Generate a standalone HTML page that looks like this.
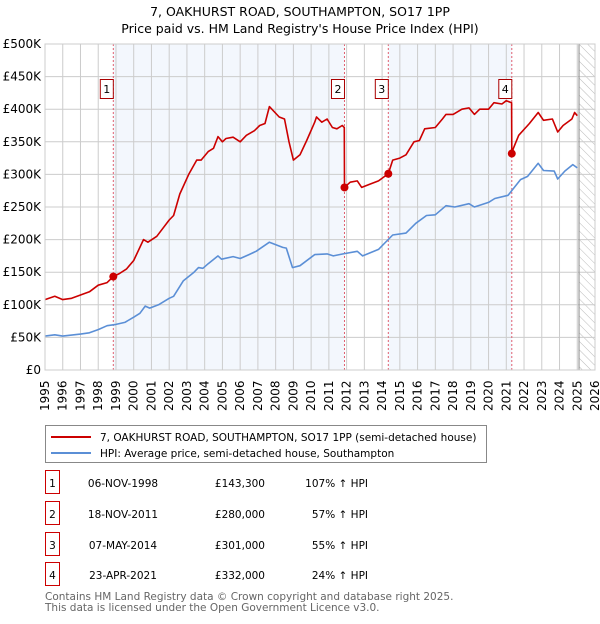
<!DOCTYPE html>
<html><head><meta charset="utf-8"><style>
body{margin:0;background:#fff;width:600px;height:620px;overflow:hidden;font-family:"DejaVu Sans","Liberation Sans",sans-serif}
svg text{font-family:"DejaVu Sans","Liberation Sans",sans-serif}
</style></head><body>
<svg id="chart" width="600" height="620" viewBox="0 0 600 620" xmlns="http://www.w3.org/2000/svg">
<defs><pattern id="hatch" width="6" height="6" patternUnits="userSpaceOnUse" patternTransform="rotate(-45)"><line x1="0" y1="0" x2="0" y2="6" stroke="#bbb" stroke-width="1"/></pattern></defs>
<text x="300" y="16" text-anchor="middle" font-size="12.5">7, OAKHURST ROAD, SOUTHAMPTON, SO17 1PP</text>
<text x="300" y="33" text-anchor="middle" font-size="12.5">Price paid vs. HM Land Registry's House Price Index (HPI)</text>
<g id="plot"></g>
<g>
<rect x="45.5" y="425.5" width="441" height="37" fill="#fff" stroke="#888"/>
<line x1="51" y1="437" x2="91" y2="437" stroke="#cc0000" stroke-width="2"/>
<text x="100" y="441" font-size="10.5">7, OAKHURST ROAD, SOUTHAMPTON, SO17 1PP (semi-detached house)</text>
<line x1="51" y1="453" x2="91" y2="453" stroke="#5b8fd6" stroke-width="2"/>
<text x="100" y="457" font-size="10.5">HPI: Average price, semi-detached house, Southampton</text>
</g>
<g id="table"></g>
<text x="45" y="600" font-size="10.5" fill="#666">Contains HM Land Registry data © Crown copyright and database right 2025.</text>
<text x="45" y="611" font-size="10.5" fill="#666">This data is licensed under the Open Government Licence v3.0.</text>
</svg>
<script>
const yTicks=[0,50,100,150,200,250,300,350,400,450,500];
const yTickLabels=["£0","£50K","£100K","£150K","£200K","£250K","£300K","£350K","£400K","£450K","£500K"];
const years=[1995,1996,1997,1998,1999,2000,2001,2002,2003,2004,2005,2006,2007,2008,2009,2010,2011,2012,2013,2014,2015,2016,2017,2018,2019,2020,2021,2022,2023,2024,2025,2026];
const saleYears=[1998.85,2011.88,2014.35,2021.31];
const salePrices=[143.3,280,301,332];
const saleLabels=["1","2","3","4"];
const saleDates=["06-NOV-1998","18-NOV-2011","07-MAY-2014","23-APR-2021"];
const salePriceText=["£143,300","£280,000","£301,000","£332,000"];
const salePct=["107% ↑ HPI","57% ↑ HPI","55% ↑ HPI","24% ↑ HPI"];
const redT=[1995,1995.55,1996,1996.5,1997,1997.5,1998,1998.5,1998.85,1999.2,1999.6,2000,2000.55,2000.8,2001.3,2002,2002.25,2002.6,2003.1,2003.55,2003.8,2004.2,2004.5,2004.75,2005,2005.2,2005.6,2006,2006.35,2006.8,2007.1,2007.4,2007.65,2008.2,2008.5,2008.75,2009.0,2009.37,2009.75,2010.2,2010.3,2010.6,2010.9,2011.2,2011.45,2011.75,2011.87,2011.88,2012.2,2012.6,2012.85,2013.3,2013.8,2014.35,2014.6,2015,2015.35,2015.8,2016.1,2016.4,2017,2017.4,2017.6,2018,2018.5,2018.9,2019.2,2019.5,2020,2020.3,2020.75,2021.0,2021.3,2021.31,2021.4,2021.7,2022.1,2022.3,2022.8,2023.1,2023.6,2023.9,2024.2,2024.7,2024.85,2025.0];
const redV=[108,113,108,110,115,120,130,134,143.3,148,155,168,200,196,205,230,237,270,300,322,322,335,340,358,350,355,357,350,360,367,375,378,404,388,385,350,322,330,352,380,388,380,385,372,370,375,372,280,288,290,280,285,290,301,322,325,330,350,352,370,372,385,392,392,400,402,392,400,400,410,408,413,410,332,340,360,372,378,395,383,385,365,375,385,395,390];
const blueT=[1995,1995.55,1996,1997,1997.5,1998,1998.5,1999,1999.5,2000,2000.35,2000.65,2000.9,2001.4,2002,2002.25,2002.8,2003.4,2003.65,2003.9,2004.2,2004.75,2004.95,2005.6,2006,2006.5,2006.9,2007.65,2008.4,2008.6,2008.95,2009.37,2010.2,2010.9,2011.25,2011.8,2012.6,2012.9,2013.8,2014.6,2015.35,2015.9,2016.5,2017,2017.6,2018.1,2018.9,2019.2,2020,2020.35,2021.1,2021.8,2022.2,2022.8,2023.1,2023.7,2023.9,2024.3,2024.75,2025.0];
const blueV=[52,54,52,55,57,62,68,70,73,81,87,98,95,100,110,113,137,150,157,156,163,175,170,174,171,177,182,196,188,187,157,160,177,178,175,178,182,175,185,207,210,225,237,238,252,250,255,250,257,263,268,292,297,317,306,305,293,305,315,310];
const L=45,R=595,T=44,B=370,Y0=1995,Y1=2026,VMAX=500;
const xs=y=>L+(y-Y0)/(Y1-Y0)*(R-L);
const ys=v=>B-v/VMAX*(B-T);
const NS="http://www.w3.org/2000/svg";
function mk(tag,attrs,parent){const e=document.createElementNS(NS,tag);for(const k in attrs)e.setAttribute(k,attrs[k]);parent.appendChild(e);return e;}
const g=document.getElementById('plot');
const shadeStart=[0,2];
shadeStart.forEach(i=>{const r=mk('rect',{x:xs(saleYears[i]),y:T,width:xs(saleYears[i+1])-xs(saleYears[i]),height:B-T,fill:'#eef3fc',opacity:0.7},g);

});
const hx=xs(2025.1);
const hr=mk('rect',{x:hx,y:T,width:R-hx,height:B-T,fill:'url(#hatch)'},g);


years.forEach(y=>{const l=mk('line',{x1:xs(y),x2:xs(y),y1:T,y2:B,stroke:'#ccc','stroke-width':1},g);


const t=mk('text',{x:0,y:0,'font-size':12,transform:`translate(${xs(y)+4},${B+41}) rotate(-90)`},g);
t.textContent=y;

});
yTicks.forEach((v,i)=>{const l=mk('line',{x1:L,x2:R,y1:ys(v),y2:ys(v),stroke:'#ccc','stroke-width':1},g);


const t=mk('text',{x:L-4,y:ys(v)+4,'font-size':12,'text-anchor':'end'},g);
t.textContent=yTickLabels[i];

});
const nl=mk('line',{x1:hx,x2:hx,y1:T,y2:B,stroke:'#888','stroke-width':1},g);


saleYears.forEach((y,i)=>{const l=mk('line',{x1:xs(y),x2:xs(y),y1:T,y2:B,stroke:'#e06070','stroke-width':1,'stroke-dasharray':'2,2'},g);

});
function path(ts,vs,color,name){const d=ts.map((t,i)=>(i?'L':'M')+xs(t).toFixed(1)+','+ys(vs[i]).toFixed(1)).join('');
const p=mk('path',{d:d,fill:'none',stroke:color,'stroke-width':1.6,'stroke-linejoin':'round'},g);

}
path(blueT,blueV,'#5b8fd6','hpi-line');
path(redT,redV,'#cc0000','price-paid-line');
saleYears.forEach((y,i)=>{const c=mk('circle',{cx:xs(y),cy:ys(salePrices[i]),r:4,fill:'#cc0000'},g);


const bx=xs(y)-13;
const b=mk('rect',{x:bx,y:79.5,width:13,height:19,fill:'#fff',stroke:'#aa0000'},g);


const t=mk('text',{x:bx+6.5,y:93,'font-size':11,'text-anchor':'middle'},g);
t.textContent=saleLabels[i];

});
mk('rect',{x:L,y:T,width:R-L,height:B-T,fill:'none',stroke:'#ccc'},g);
const tb=document.getElementById('table');
const rowY=[483,514,545,575];
saleLabels.forEach((s,i)=>{const y=rowY[i];
const b=mk('rect',{x:45.5,y:y-12.5,width:14,height:23,fill:'#fff',stroke:'#cc0000'},tb);


const a=mk('text',{x:52.5,y:y+4,'font-size':10.5,'text-anchor':'middle'},tb);a.textContent=s;


const d=mk('text',{x:123,y:y+4,'font-size':10.5,'text-anchor':'middle'},tb);d.textContent=saleDates[i];


const p=mk('text',{x:265,y:y+4,'font-size':10.5,'text-anchor':'end'},tb);p.textContent=salePriceText[i];


const q=mk('text',{x:368,y:y+4,'font-size':10.5,'text-anchor':'end'},tb);q.textContent=salePct[i];

});
</script>
</body></html>
